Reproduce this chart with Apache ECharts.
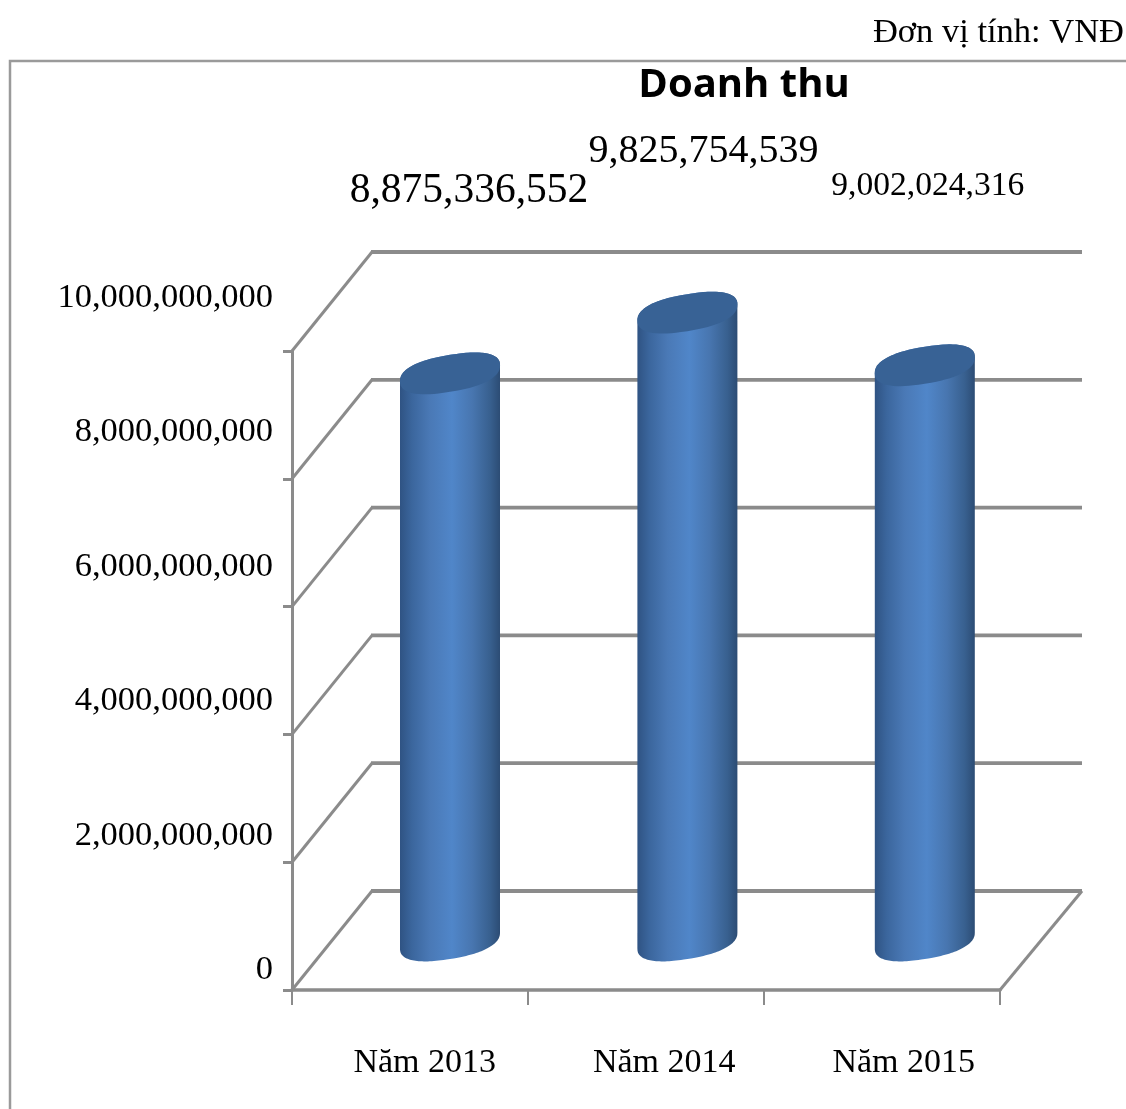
<!DOCTYPE html>
<html>
<head>
<meta charset="utf-8">
<style>html,body{margin:0;padding:0;background:#fff}#c{width:1126px;height:1109px}</style>
<script src="https://cdn.jsdelivr.net/npm/echarts@6/dist/echarts.min.js"></script>
</head>
<body>
<div id="c"></div>
<script>
const categories = ['Năm 2013', 'Năm 2014', 'Năm 2015'];
const revenue = [8875336552, 9825754539, 9002024316];
const yTicks = [0, 2000000000, 4000000000, 6000000000, 8000000000, 10000000000];
const unitText = 'Đơn vị tính: VNĐ';
const titleText = 'Doanh thu';

const SERIF = '"Liberation Serif", serif';
const GRAY = '#8b8b8b';
const DEPTH = [80, -99];
const RX = 50, TILT = 8, RY = 18.5, ROUND = 0.84;
const BAR_SPREAD = 1.4;
const labelLook = [
  {dx: 19, dy: -182, size: 41.5},
  {dx: 16, dy: -161, size: 40},
  {dx: 3, dy: -179, size: 33.6}
];
const fmt = v => Number(v).toLocaleString('en-US');

function arc(cx, cy, from, to) {
  const pts = [];
  const sp = v => Math.sign(v) * Math.pow(Math.abs(v), ROUND);
  for (let i = 0; i <= 72; i++) {
    const t = from + (to - from) * i / 72;
    const c = sp(Math.cos(t)), s = sp(Math.sin(t));
    pts.push([cx + RX * c, cy - TILT * c + RY * s]);
  }
  return pts;
}

function renderWall(params, api) {
  const y = api.coord([0, api.value(1)])[1];
  const cs = params.coordSys;
  const x0 = cs.x, x1 = cs.x + cs.width;
  const children = [
    {type: 'line', shape: {x1: x0, y1: y, x2: x0 + DEPTH[0], y2: y + DEPTH[1]},
      style: {stroke: GRAY, lineWidth: 3}},
    {type: 'line', shape: {x1: x0 + DEPTH[0] - 1, y1: y + DEPTH[1], x2: x1 + DEPTH[0] + 2, y2: y + DEPTH[1]},
      style: {stroke: GRAY, lineWidth: 3.8}}
  ];
  if (api.value(1) === 0) {
    children.push({type: 'line', shape: {x1: x1, y1: y, x2: x1 + DEPTH[0] + 2, y2: y + DEPTH[1]},
      style: {stroke: GRAY, lineWidth: 3}});
  }
  return {type: 'group', children};
}

function renderCylinder(params, api) {
  const i = api.value(0);
  const p = api.coord([i, api.value(1)]);
  const b = api.coord([i, 0]);
  const cx = p[0] + DEPTH[0] / 2 + i * BAR_SPREAD, topY = p[1] + DEPTH[1] / 2, baseY = b[1] + DEPTH[1] / 2;
  const body = arc(cx, topY, Math.PI, 2 * Math.PI).concat(arc(cx, baseY, 0, Math.PI));
  const look = labelLook[i];
  return {
    type: 'group',
    children: [
      {type: 'polygon', shape: {points: body}, style: {
        fill: new echarts.graphic.LinearGradient(0, 0, 1, 0, [
          {offset: 0, color: '#2f5383'},
          {offset: 0.12, color: '#3b669d'},
          {offset: 0.3, color: '#4a79b6'},
          {offset: 0.52, color: '#5086c9'},
          {offset: 0.72, color: '#4876b0'},
          {offset: 0.9, color: '#38608f'},
          {offset: 1, color: '#2c4c74'}
        ])
      }},
      {type: 'polygon', shape: {points: arc(cx, topY, 0, 2 * Math.PI)}, style: {fill: '#386295'}},
      {type: 'text', style: {
        text: fmt(api.value(1)), x: cx + look.dx, y: topY + look.dy,
        align: 'center', verticalAlign: 'middle',
        font: look.size + 'px ' + SERIF, fill: '#000'
      }}
    ]
  };
}

const chart = echarts.init(document.getElementById('c'), null, {renderer: 'canvas'});
chart.setOption({
  animation: false,
  backgroundColor: '#fff',
  title: [
    {text: titleText, left: 744, top: 66, padding: 0, textAlign: 'center',
      textStyle: {fontFamily: '"Open Sans", sans-serif', fontWeight: 'bold', fontSize: 40, color: '#000'}},
    {text: unitText, right: 2, top: 15, padding: 0,
      textStyle: {fontFamily: SERIF, fontWeight: 'normal', fontSize: 34.5, color: '#000'}}
  ],
  graphic: [{
    type: 'polyline', silent: true,
    shape: {points: [[10, 1109], [10, 61], [1126, 61]]},
    style: {stroke: '#9a9a9a', lineWidth: 2.5, fill: null}
  }],
  grid: [
    {left: 292, right: 126, top: 351, bottom: 119},
    {left: 305, width: 718.5, top: 298, bottom: 139}
  ],
  xAxis: [
    {type: 'category', data: categories, gridIndex: 0, boundaryGap: true,
      axisLine: {show: true, lineStyle: {color: GRAY, width: 3.5}},
      axisTick: {show: true, length: 15, alignWithLabel: false, lineStyle: {color: GRAY, width: 2}},
      axisLabel: {show: false}},
    {type: 'category', data: categories, gridIndex: 1,
      axisLine: {show: false}, axisTick: {show: false},
      axisLabel: {show: true, interval: 0, margin: 76, fontFamily: SERIF, fontSize: 34, color: '#000'}}
  ],
  yAxis: [
    {type: 'value', min: 0, max: 10000000000, interval: 2000000000, gridIndex: 0,
      axisLine: {show: true, lineStyle: {color: GRAY, width: 3}},
      axisTick: {show: true, length: 9, lineStyle: {color: GRAY, width: 3}},
      axisLabel: {show: false}, splitLine: {show: false}},
    {type: 'value', min: 0, max: 10000000000, interval: 2000000000, gridIndex: 1,
      axisLine: {show: false}, axisTick: {show: false}, splitLine: {show: false},
      axisLabel: {show: true, margin: 32, fontFamily: SERIF, fontSize: 34.5, color: '#000', formatter: fmt}}
  ],
  series: [
    {type: 'custom', name: 'walls', xAxisIndex: 0, yAxisIndex: 0, z: 1, silent: true,
      renderItem: renderWall, encode: {x: 0, y: 1},
      data: yTicks.map(v => [0, v])},
    {type: 'custom', name: 'Doanh thu', xAxisIndex: 0, yAxisIndex: 0, z: 5,
      renderItem: renderCylinder, encode: {x: 0, y: 1},
      data: revenue.map((v, i) => [i, v])}
  ]
});
</script>
</body>
</html>
